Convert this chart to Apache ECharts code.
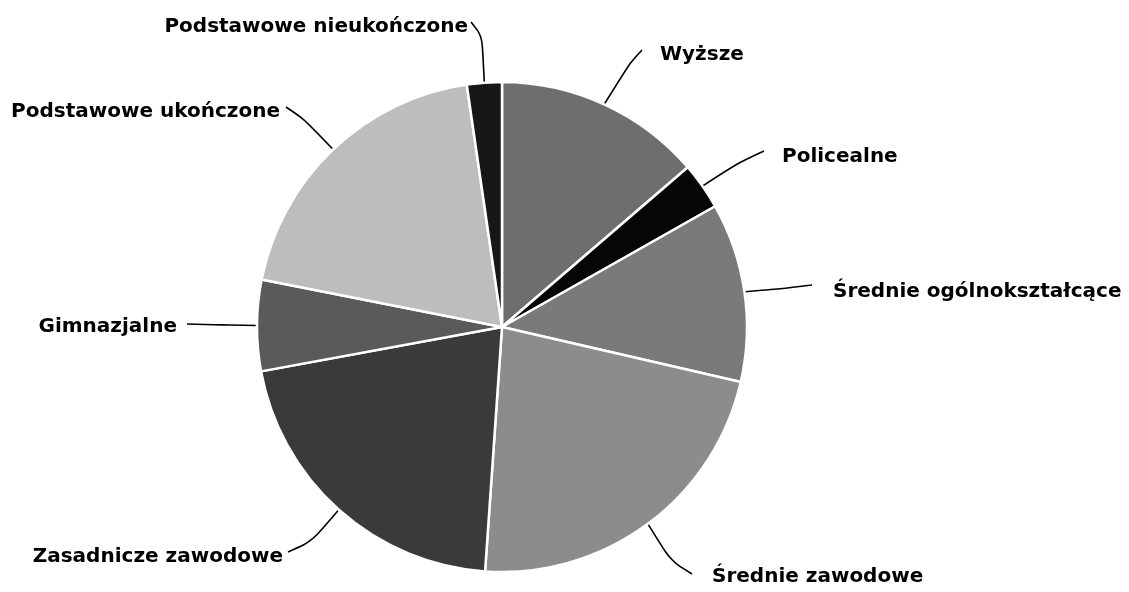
<!DOCTYPE html>
<html>
<head>
<meta charset="utf-8">
<script src="https://cdn.jsdelivr.net/npm/echarts@6/dist/echarts.min.js"></script>
<style>
  html, body { margin: 0; padding: 0; background: #ffffff; }
  #chart { width: 1129px; height: 592px; }
</style>
</head>
<body>
<div id="chart"></div>
<script>
// Education levels (share of population, %), clockwise from 12 o'clock
const categories = [
  'Wyższe',
  'Policealne',
  'Średnie ogólnokształcące',
  'Średnie zawodowe',
  'Zasadnicze zawodowe',
  'Gimnazjalne',
  'Podstawowe ukończone',
  'Podstawowe nieukończone'
];
const shares = [13.7, 3.1, 11.8, 22.5, 21.0, 6.0, 19.6, 2.3];

// Grey fill for each slice
const sliceColors = ['#6e6e6e', '#060606', '#7a7a7a', '#8c8c8c', '#3a3a3a', '#5a5a5a', '#bdbdbd', '#171717'];

// Label placement: text anchor, alignment, and the bend / end of each leader line
const labelPlacement = {
  'Wyższe':                   { x: 660, y: 55,  align: 'left',  bend: [630, 63],  end: [642, 50] },
  'Policealne':               { x: 782, y: 157, align: 'left',  bend: [738, 163], end: [764, 151] },
  'Średnie ogólnokształcące': { x: 833, y: 292, align: 'left',  bend: [780, 289], end: [812, 285] },
  'Średnie zawodowe':         { x: 712, y: 577, align: 'left',  bend: [671, 561], end: [692, 574] },
  'Zasadnicze zawodowe':      { x: 283, y: 557, align: 'right', bend: [311, 542], end: [288, 552] },
  'Gimnazjalne':              { x: 177, y: 327, align: 'right', bend: [222, 325], end: [187, 324] },
  'Podstawowe ukończone':     { x: 280, y: 112, align: 'right', bend: [304, 119], end: [286, 107] },
  'Podstawowe nieukończone':  { x: 468, y: 27,  align: 'right', bend: [482, 36],  end: [471, 22] }
};

const chart = echarts.init(document.getElementById('chart'), null, { renderer: 'canvas' });

const option = {
  backgroundColor: '#ffffff',
  animation: false,
  series: [{
    type: 'pie',
    center: [502, 327],
    radius: 245,
    startAngle: 90,
    clockwise: true,
    avoidLabelOverlap: false,
    silent: true,
    data: categories.map((name, i) => ({
      name: name,
      value: shares[i],
      itemStyle: { color: sliceColors[i] }
    })),
    itemStyle: {
      borderColor: '#ffffff',
      borderWidth: 2.5
    },
    label: {
      show: true,
      position: 'outside',
      formatter: '{b}',
      fontFamily: 'DejaVu Sans',
      fontWeight: 'bold',
      fontSize: 20,
      color: '#000000'
    },
    labelLine: {
      show: true,
      smooth: 0.3,
      lineStyle: { color: '#000000', width: 1.6 }
    },
    labelLayout: function (params) {
      const p = labelPlacement[categories[params.dataIndex]];
      const start = params.labelLinePoints ? params.labelLinePoints[0] : p.bend;
      return {
        x: p.x,
        y: p.y,
        align: p.align,
        verticalAlign: 'middle',
        labelLinePoints: [start, p.bend, p.end]
      };
    }
  }]
};

chart.setOption(option);
</script>
</body>
</html>
